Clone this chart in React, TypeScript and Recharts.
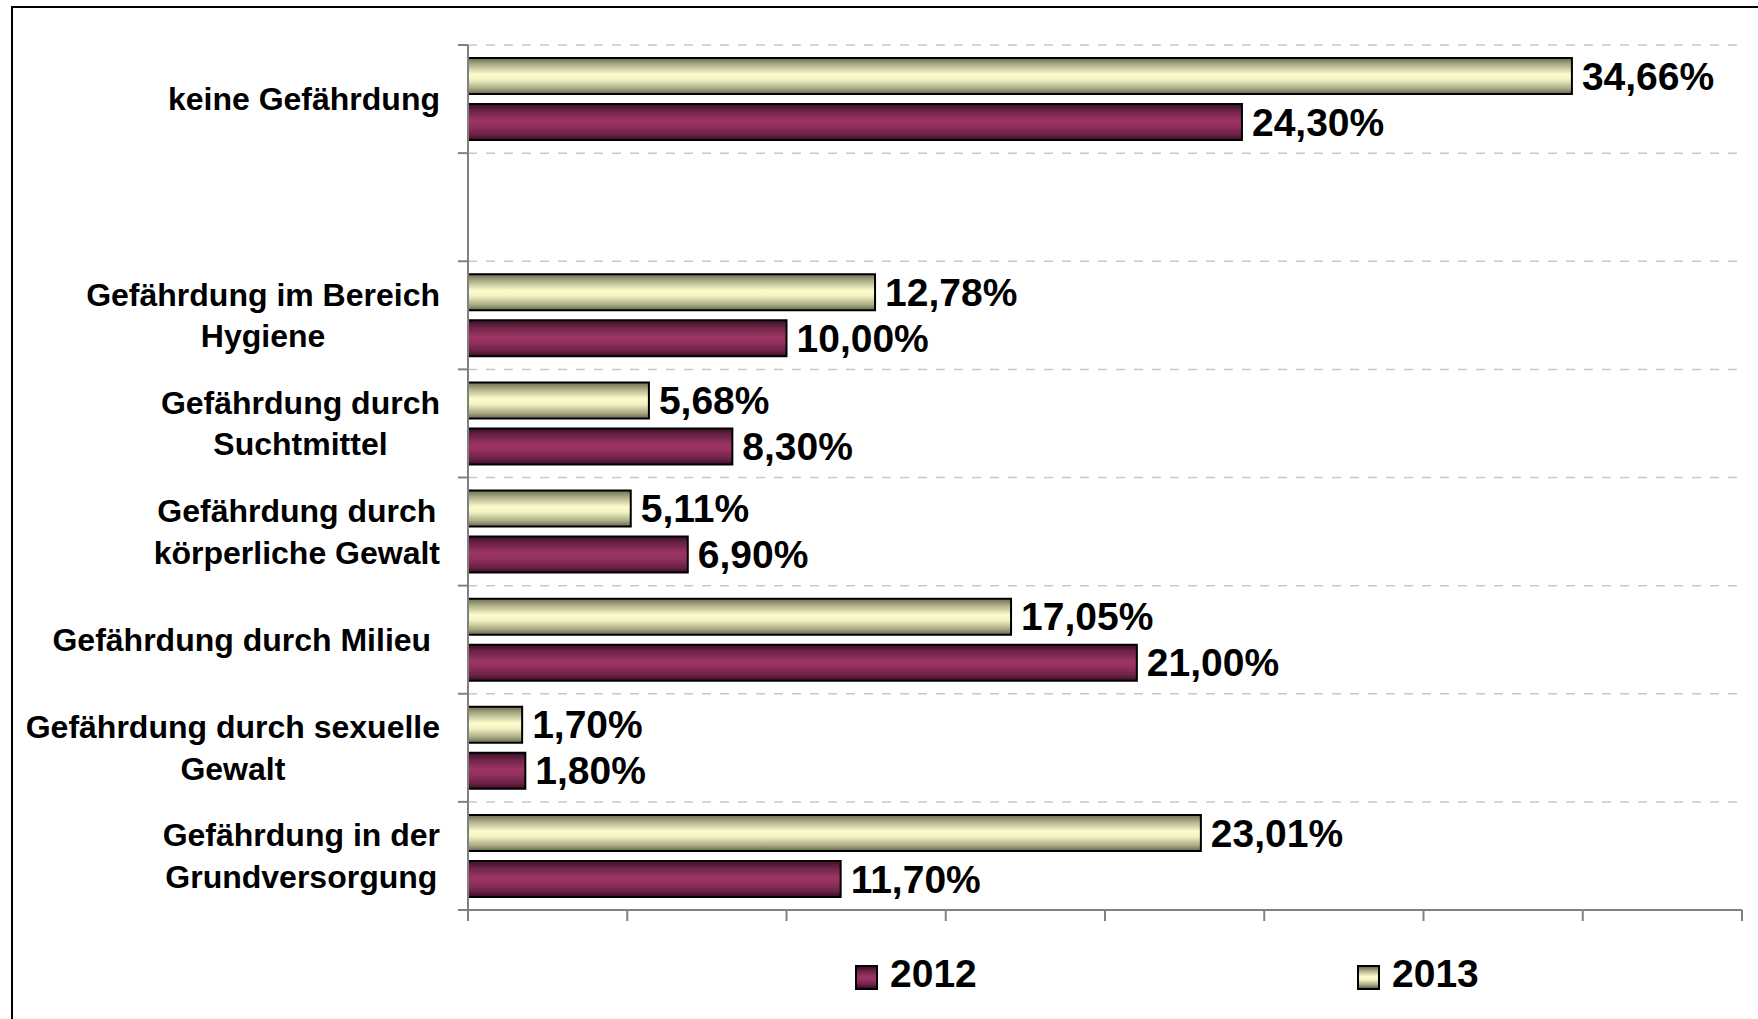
import { BarChart, Bar, XAxis, YAxis, CartesianGrid, LabelList } from "recharts";

const categories = [
  "keine Gefährdung",
  "",
  "Gefährdung im Bereich\nHygiene",
  "Gefährdung durch\nSuchtmittel",
  "Gefährdung durch\nkörperliche Gewalt",
  "Gefährdung durch Milieu ",
  "Gefährdung durch sexuelle\nGewalt",
  "Gefährdung in der\nGrundversorgung",
];
const values2012 = [24.3, null, 10.0, 8.3, 6.9, 21.0, 1.8, 11.7];
const values2013 = [34.66, null, 12.78, 5.68, 5.11, 17.05, 1.7, 23.01];
const xTicks = [0, 5, 10, 15, 20, 25, 30, 35, 40];
const seriesNames = ["2012", "2013"];

const data = categories.map((name, i) => ({ name, y2012: values2012[i], y2013: values2013[i] }));

const W = 1758;
const H = 1019;
const MARGIN = { top: 45, right: 16, bottom: 79, left: 0 };
const X_AXIS_H = 30;
const PLOT_H = H - MARGIN.top - MARGIN.bottom - X_AXIS_H;
const BAND = PLOT_H / categories.length;
const FONT = '"Liberation Sans", Arial, sans-serif';
const CAT_SIZE = 32;
const LINE_H = 41.5;
const VAL_SIZE = 39;

const ctx = typeof document !== "undefined" ? document.createElement("canvas").getContext("2d") : null;
function textWidth(s: string, size: number) {
  if (!ctx) return s.length * size * 0.55;
  ctx.font = `bold ${size}px ${FONT}`;
  return ctx.measureText(s).width;
}

const fmt = (v: number) => v.toFixed(2).replace(".", ",") + "%";

function CategoryTick(props: any) {
  const { x, y, payload, index } = props;
  const lines = String(payload.value).split("\n");
  const w = Math.max(...lines.map((l) => textWidth(l, CAT_SIZE)));
  const cx = x - 28 - w / 2;
  const last = index === categories.length - 1;
  return (
    <g>
      <line x1={x - 10} x2={x} y1={y - BAND / 2} y2={y - BAND / 2} stroke="#808080" strokeWidth={2} />
      {last && <line x1={x - 10} x2={x} y1={y + BAND / 2} y2={y + BAND / 2} stroke="#808080" strokeWidth={2} />}
      {payload.value !== "" && (
        <text textAnchor="middle" fontFamily={FONT} fontWeight="bold" fontSize={CAT_SIZE} fill="#000" style={{ whiteSpace: "pre" }}>
          {lines.map((l, i) => (
            <tspan key={i} x={cx} y={y + (i - (lines.length - 1) / 2) * LINE_H + CAT_SIZE * 0.35}>
              {l}
            </tspan>
          ))}
        </text>
      )}
    </g>
  );
}

function ValueLabel(props: any) {
  const { x, y, width, height, value } = props;
  if (value == null) return null;
  return (
    <text
      x={Number(x) + Number(width) + 10}
      y={Number(y) + Number(height) / 2 + VAL_SIZE * 0.35}
      fontFamily={FONT}
      fontWeight="bold"
      fontSize={VAL_SIZE}
      fill="#000"
    >
      {fmt(Number(value))}
    </text>
  );
}

const legendSwatch: Record<string, string> = {
  "2012": "linear-gradient(#3b0f27, #6e2448 20%, #9b3464 45%, #96315f 60%, #6a2245 85%, #3a0e26)",
  "2013": "linear-gradient(#6e6e52, #b2b28c 20%, #fbfbcc 45%, #f3f3c3 60%, #a9a985 85%, #68684e)",
};
const legendX = [855, 1357];

export default function App() {
  return (
    <div style={{ position: "absolute", left: 0, top: 0, width: W, height: H, overflow: "hidden", background: "#fff" }}>
      <div
        style={{
          position: "absolute",
          left: 11,
          top: 6,
          width: 1900,
          height: 1200,
          borderLeft: "2px solid #000",
          borderTop: "2px solid #000",
        }}
      />
      <div style={{ position: "absolute", left: 0, top: 0 }}>
        <BarChart
          width={W}
          height={H}
          data={data}
          layout="vertical"
          margin={MARGIN}
          barCategoryGap={13}
          barGap={10}
        >
          <defs>
            <linearGradient id="g2012" x1="0" y1="0" x2="0" y2="1">
              <stop offset="0%" stopColor="#3b0f27" />
              <stop offset="20%" stopColor="#6e2448" />
              <stop offset="45%" stopColor="#9b3464" />
              <stop offset="60%" stopColor="#96315f" />
              <stop offset="85%" stopColor="#6a2245" />
              <stop offset="100%" stopColor="#3a0e26" />
            </linearGradient>
            <linearGradient id="g2013" x1="0" y1="0" x2="0" y2="1">
              <stop offset="0%" stopColor="#6e6e52" />
              <stop offset="20%" stopColor="#b2b28c" />
              <stop offset="45%" stopColor="#fbfbcc" />
              <stop offset="60%" stopColor="#f3f3c3" />
              <stop offset="85%" stopColor="#a9a985" />
              <stop offset="100%" stopColor="#68684e" />
            </linearGradient>
          </defs>
          <CartesianGrid
            vertical={false}
            stroke="#c8c8c8"
            strokeWidth={1.5}
            strokeDasharray="9 9"
            horizontalCoordinatesGenerator={({ offset }: any) =>
              categories.map((_, i) => offset.top + (i * offset.height) / categories.length)
            }
          />
          <XAxis
            type="number"
            domain={[0, 40]}
            ticks={xTicks}
            height={X_AXIS_H}
            axisLine={{ stroke: "#808080", strokeWidth: 2 }}
            tickLine={{ stroke: "#808080", strokeWidth: 2 }}
            tickSize={11}
            tick={() => <g />}
          />
          <YAxis
            type="category"
            dataKey="name"
            width={468}
            interval={0}
            axisLine={{ stroke: "#808080", strokeWidth: 2 }}
            tickLine={false}
            tickSize={0}
            tickMargin={0}
            tick={<CategoryTick />}
          />
          <Bar dataKey="y2013" name={seriesNames[1]} fill="url(#g2013)" stroke="#000" strokeWidth={2} isAnimationActive={false}>
            <LabelList dataKey="y2013" content={<ValueLabel />} />
          </Bar>
          <Bar dataKey="y2012" name={seriesNames[0]} fill="url(#g2012)" stroke="#000" strokeWidth={2} isAnimationActive={false}>
            <LabelList dataKey="y2012" content={<ValueLabel />} />
          </Bar>
        </BarChart>
      </div>
      {seriesNames.map((s, i) => (
        <div
          key={s}
          style={{ position: "absolute", left: legendX[i], top: 954, display: "flex", alignItems: "center", height: 40 }}
        >
          <div
            style={{
              width: 19,
              height: 21,
              border: "2px solid #000",
              background: legendSwatch[s],
              marginRight: 12,
              marginTop: 6,
            }}
          />
          <span style={{ fontFamily: FONT, fontWeight: "bold", fontSize: 39, color: "#000", lineHeight: "40px" }}>{s}</span>
        </div>
      ))}
    </div>
  );
}
